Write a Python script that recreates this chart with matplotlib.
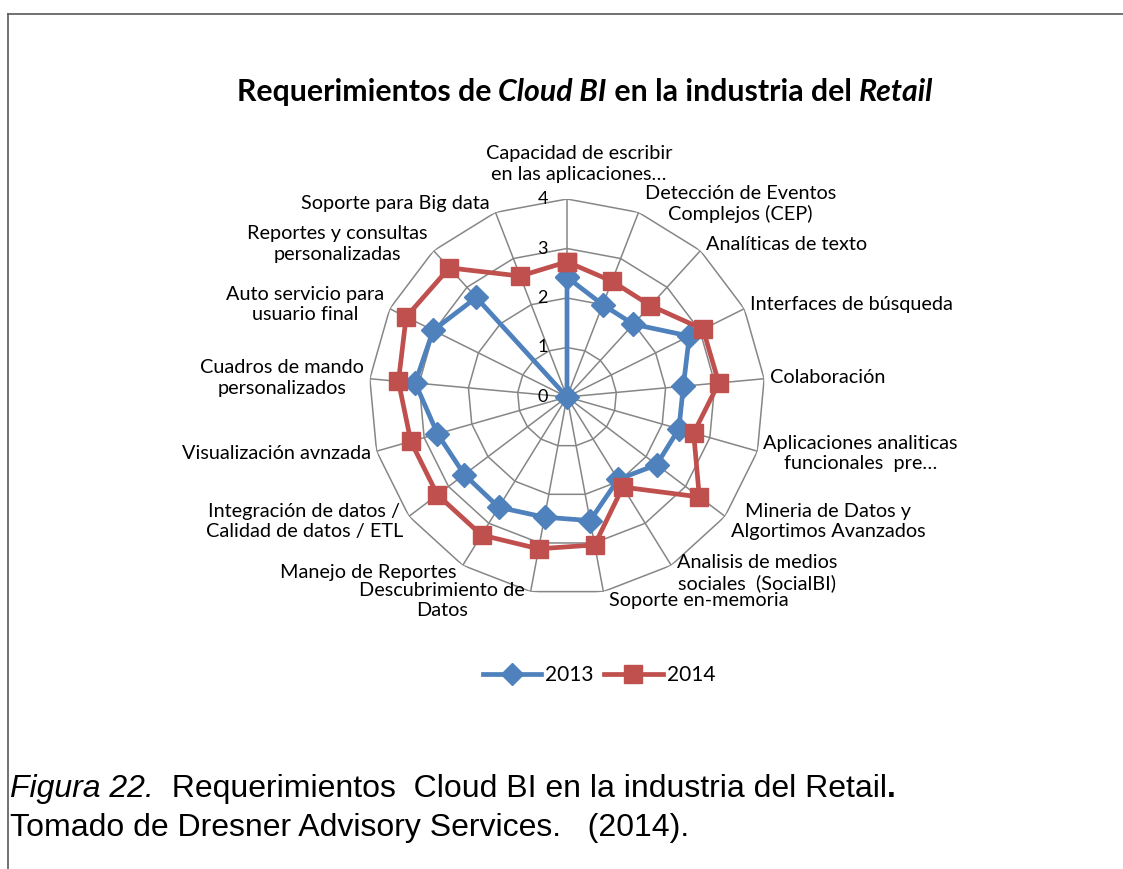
import matplotlib
matplotlib.use("Agg")
import matplotlib.pyplot as plt
import numpy as np
from matplotlib.lines import Line2D

# Datos (escala 0-4)
categories = [
    "Capacidad de escribir\nen las aplicaciones…",
    "Detección de Eventos\nComplejos (CEP)",
    "Analíticas de texto",
    "Interfaces de búsqueda",
    "Colaboración",
    "Aplicaciones analiticas\nfuncionales  pre…",
    "Mineria de Datos y\nAlgortimos Avanzados",
    "Analisis de medios\nsociales  (SocialBI)",
    "Soporte en-memoria",
    "Descubrimiento de\nDatos",
    "Manejo de Reportes",
    "Integración de datos /\nCalidad de datos / ETL",
    "Visualización avnzada",
    "Cuadros de mando\npersonalizados",
    "Auto servicio para\nusuario final",
    "Reportes y consultas\npersonalizadas",
    "Soporte para Big data",
]
vals_2013 = [2.42, 2.0, 1.99, 2.76, 2.36, 2.35, 2.27, 1.96, 2.54, 2.47,
             2.62, 2.6, 2.72, 3.08, 3.02, 2.72, 0.0]
vals_2014 = [2.73, 2.51, 2.5, 3.07, 3.08, 2.66, 3.35, 2.14, 3.04, 3.12,
             3.28, 3.28, 3.28, 3.42, 3.63, 3.53, 2.62]
series_names = ["2013", "2014"]
radial_ticks = [0, 1, 2, 3, 4]

BLUE = "#4F81BD"
RED = "#C0504D"
GRID = "#868686"
LABEL_FONT = ["Lato", "DejaVu Sans"]
LABEL_SIZE = 14.3

W, H = 1123, 869
fig = plt.figure(figsize=(W / 100, H / 100), dpi=100)

cx, cy, R = 567, 397, 198
ax = fig.add_axes([(cx - R) / W, 1 - (cy + R) / H, 2 * R / W, 2 * R / H], projection="polar")
ax.set_theta_zero_location("N")
ax.set_theta_direction(-1)
ax.set_ylim(0, max(radial_ticks))
ax.set_xticks([])
ax.set_yticks([])
ax.grid(False)
ax.spines["polar"].set_visible(False)
ax.patch.set_visible(False)

n = len(categories)
theta = np.arange(n) * 2 * np.pi / n
closed = np.append(theta, theta[0])

# rejilla poligonal estilo Excel
for lvl in radial_ticks[1:]:
    ax.plot(closed, [lvl] * (n + 1), color=GRID, lw=1.1, zorder=1)
for t in theta:
    ax.plot([t, t], [0, radial_ticks[-1]], color=GRID, lw=1.1, zorder=1)

for lvl in radial_ticks:
    ax.annotate(str(lvl), xy=(0, lvl), xytext=(-19, 0), textcoords="offset pixels",
                ha="right", va="center", fontsize=13, family=LABEL_FONT)

ax.plot(closed, np.append(vals_2013, vals_2013[0]), color=BLUE, lw=3.4, marker="D",
        ms=12, mec=BLUE, mfc=BLUE, zorder=3, clip_on=False, label=series_names[0])
ax.plot(closed, np.append(vals_2014, vals_2014[0]), color=RED, lw=3.4, marker="s",
        ms=13.5, mec=RED, mfc=RED, zorder=4, clip_on=False, label=series_names[1])

# etiquetas de categoría
for t, lab in zip(theta, categories):
    s, c = np.sin(t), np.cos(t)
    if abs(s) < 0.1 and c > 0:
        ax.annotate(lab, xy=(t, 4), xytext=(12, 16), textcoords="offset pixels",
                    ha="center", va="bottom", multialignment="center",
                    fontsize=LABEL_SIZE, family=LABEL_FONT, linespacing=1.25)
        continue
    ha = "left" if s > 0 else "right"
    ax.annotate(lab, xy=(t, 4), xytext=(6 * np.sign(s), 9 * c), textcoords="offset pixels",
                ha=ha, va="center", multialignment="center", fontsize=LABEL_SIZE,
                family=LABEL_FONT, linespacing=1.25)


def put_runs(runs, x, y, ha, size, family):
    """Escribe trozos de texto con estilos distintos uno tras otro."""
    rend = fig.canvas.get_renderer()
    texts = []
    for s, style, weight in runs:
        texts.append(fig.text(0, 1 - y / H, s, fontsize=size, family=family,
                              style=style, weight=weight, va="center", ha="left"))
    widths = [t.get_window_extent(rend).width for t in texts]
    total = sum(widths)
    start = x - total / 2 if ha == "center" else x
    for t, w in zip(texts, widths):
        t.set_x(start / W)
        start += w


put_runs([("Requerimientos de ", "normal", "bold"),
          ("Cloud BI", "italic", "bold"),
          (" en la industria del ", "normal", "bold"),
          ("Retail", "italic", "bold")],
         585, 92, "center", 21.8, LABEL_FONT)

handles = [
    Line2D([], [], color=BLUE, lw=3.4, marker="D", ms=11),
    Line2D([], [], color=RED, lw=3.4, marker="s", ms=13),
]
fig.legend(handles, series_names, loc="center", bbox_to_anchor=(599 / W, 1 - 675 / H),
           ncol=2, frameon=False, handlelength=2.8, handletextpad=0.2, columnspacing=0.5,
           prop={"family": LABEL_FONT, "size": 15})

CAP_FONT = ["Liberation Sans", "DejaVu Sans"]
put_runs([("Figura 22.", "italic", "normal"),
          ("  Requerimientos  Cloud BI en la industria del Retail", "normal", "normal"),
          (".", "normal", "bold")],
         10, 789, "left", 23, CAP_FONT)
put_runs([("Tomado de Dresner Advisory Services.   (2014).", "normal", "normal")],
         10, 828, "left", 23, CAP_FONT)

# marco del gráfico
fig.add_artist(Line2D([8 / W, 1], [1 - 14 / H, 1 - 14 / H], color="#595959", lw=1.2))
fig.add_artist(Line2D([8 / W, 8 / W], [0, 1 - 14 / H], color="#595959", lw=1.2))

fig.savefig("out.png", dpi=100)
